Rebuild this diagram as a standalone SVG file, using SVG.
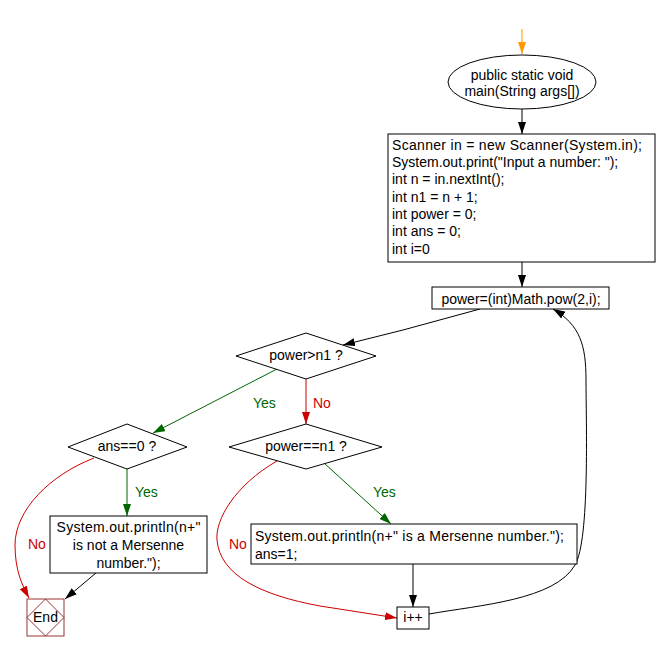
<svg xmlns="http://www.w3.org/2000/svg" width="657" height="652" viewBox="0 0 657 652">
<style>
text{font-family:"Liberation Sans",Arial,sans-serif;font-size:14px;fill:#000}
.c{text-anchor:middle}
.g{fill:#006600}
.r{fill:#cc0000}
.n{fill:#fff;stroke:#000;stroke-width:1}
.e{fill:none;stroke-width:1}
.k{stroke:#000}
.gr{stroke:#006600}
.rd{stroke:#cc0000}
.or{stroke:#ff9900}
</style>
<defs>
<marker id="mk" viewBox="0 0 12 8" refX="12" refY="4" markerWidth="12" markerHeight="8" markerUnits="userSpaceOnUse" orient="auto"><path d="M0,0 L12,4 L0,8 z" fill="#000"/></marker>
<marker id="mg" viewBox="0 0 12 8" refX="12" refY="4" markerWidth="12" markerHeight="8" markerUnits="userSpaceOnUse" orient="auto"><path d="M0,0 L12,4 L0,8 z" fill="#006600"/></marker>
<marker id="mr" viewBox="0 0 12 8" refX="12" refY="4" markerWidth="12" markerHeight="8" markerUnits="userSpaceOnUse" orient="auto"><path d="M0,0 L12,4 L0,8 z" fill="#cc0000"/></marker>
<marker id="mo" viewBox="0 0 12 8" refX="12" refY="4" markerWidth="12" markerHeight="8" markerUnits="userSpaceOnUse" orient="auto"><path d="M0,0 L12,4 L0,8 z" fill="#ff9900"/></marker>
</defs>
<g id="connectors">
<path class="e or" d="M522,29 L522,54" marker-end="url(#mo)"/>
<path class="e k" d="M522,109 L522,134" marker-end="url(#mk)"/>
<path class="e k" d="M522,262 L522,287" marker-end="url(#mk)"/>
<path class="e k" d="M480,309 L403,330 L343,345" marker-end="url(#mk)"/>
<path class="e gr" d="M277,369 L153,433" marker-end="url(#mg)"/>
<path class="e rd" d="M306,379 L306,424" marker-end="url(#mr)"/>
<path class="e gr" d="M127,469 L127,516" marker-end="url(#mg)"/>
<path class="e gr" d="M324,463 L391,524" marker-end="url(#mg)"/>
<path class="e k" d="M96,573 L65,599" marker-end="url(#mk)"/>
<path class="e k" d="M413,564 L413,607" marker-end="url(#mk)"/>
<path class="e rd" d="M94,458 C50,475 15,510 15,545 C15,570 22,585 29,598" marker-end="url(#mr)"/>
<path class="e rd" d="M277,461 C235,485 215,520 217,540 C220,575 260,595 320,606 L397,618" marker-end="url(#mr)"/>
<path class="e k" d="M429,614 C480,605 555,600 575,565 C590,540 586,420 586,380 C586,345 580,325 553,309" marker-end="url(#mk)"/>
<text class="g" x="253" y="408">Yes</text>
<text class="r" x="313" y="408">No</text>
<text class="g" x="135" y="497">Yes</text>
<text class="g" x="373" y="497">Yes</text>
<text class="r" x="28" y="549">No</text>
<text class="r" x="229" y="549">No</text>
</g>
<g id="start">
<ellipse class="n" cx="522" cy="82" rx="74" ry="27"/>
<text class="c" x="522" y="80">public static void</text>
<text class="c" x="522" y="96">main(String args[])</text>
</g>
<g id="init">
<rect class="n" x="388" y="134" width="267" height="128"/>
<text x="392" y="149.5" textLength="250">Scanner in = new Scanner(System.in);</text>
<text x="392" y="167">System.out.print("Input a number: ");</text>
<text x="392" y="184">int n = in.nextInt();</text>
<text x="392" y="201.5">int n1 = n + 1;</text>
<text x="392" y="219">int power = 0;</text>
<text x="392" y="236">int ans = 0;</text>
<text x="392" y="253.5">int i=0</text>
</g>
<g id="pow">
<rect class="n" x="432" y="287" width="177" height="22"/>
<text class="c" x="521" y="304">power=(int)Math.pow(2,i);</text>
</g>
<g id="cond1">
<polygon class="n" points="236,356 306,333 376,356 306,379"/>
<text class="c" x="306" y="360">power&gt;n1 ?</text>
</g>
<g id="cond2">
<polygon class="n" points="68,447 127,424 187,447 127,469"/>
<text class="c" x="127" y="451">ans==0 ?</text>
</g>
<g id="cond3">
<polygon class="n" points="229,447 306,424 382,447 306,469"/>
<text class="c" x="306" y="451">power==n1 ?</text>
</g>
<g id="notm">
<rect class="n" x="50" y="516" width="157" height="57"/>
<text class="c" x="128.5" y="532" textLength="144">System.out.println(n+"</text>
<text class="c" x="128.5" y="550">is not a Mersenne</text>
<text class="c" x="128.5" y="568">number.");</text>
</g>
<g id="ism">
<rect class="n" x="251" y="524" width="326" height="40"/>
<text x="255" y="541" textLength="309">System.out.println(n+" is a Mersenne number.");</text>
<text x="255" y="559">ans=1;</text>
</g>
<g id="inc">
<rect class="n" x="397" y="607" width="32" height="22"/>
<text class="c" x="413" y="622">i++</text>
</g>
<g id="end">
<rect x="27" y="599" width="37" height="37" fill="#fff" stroke="#993333"/>
<polygon points="45.5,599 64,617.5 45.5,636 27,617.5" fill="none" stroke="#993333"/>
<text class="c" x="45.5" y="622">End</text>
</g>
</svg>
